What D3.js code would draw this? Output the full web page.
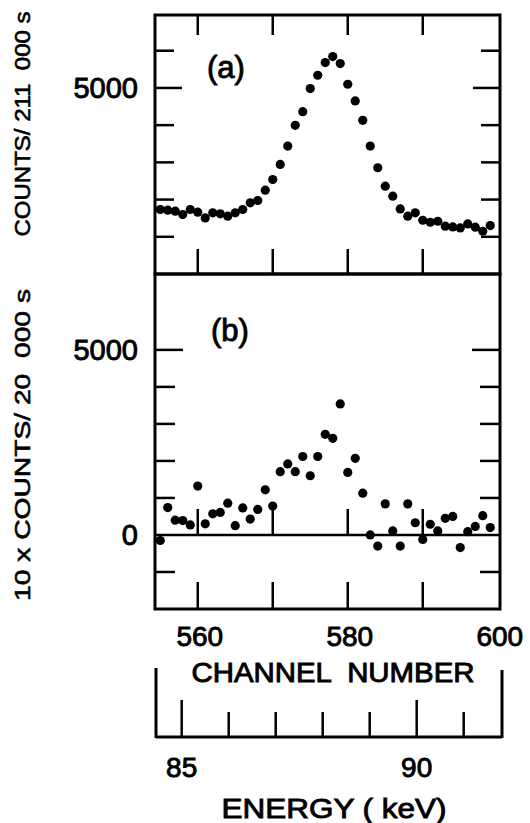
<!DOCTYPE html>
<html>
<head>
<meta charset="utf-8">
<script src="https://cdn.jsdelivr.net/npm/d3@7/dist/d3.min.js"></script>
<style>
  body { margin: 0; background: #fff; }
  text { font-family: "Liberation Sans", Arial, sans-serif; fill: #000; stroke: #000; stroke-width: 0.9px; white-space: pre; }
</style>
</head>
<body>
<svg id="chart" width="530" height="823"></svg>
<script>
// channel numbers, one point per channel
const channels = [555, 556, 557, 558, 559, 560, 561, 562, 563, 564, 565, 566, 567, 568, 569,
  570, 571, 572, 573, 574, 575, 576, 577, 578, 579, 580, 581, 582, 583, 584,
  585, 586, 587, 588, 589, 590, 591, 592, 593, 594, 595, 596, 597, 598, 599];

// (a) counts / 211 000 s
const countsA = [1733, 1715, 1688, 1598, 1733, 1661, 1508, 1643, 1616, 1553, 1643, 1733, 1912, 1975, 2253,
  2540, 2944, 3438, 3995, 4363, 4982, 5341, 5682, 5844, 5655, 5099, 4650, 4129, 3438, 2855,
  2361, 2092, 1750, 1553, 1643, 1445, 1391, 1418, 1284, 1266, 1239, 1346, 1257, 1149, 1302];

// (b) 10 x counts / 20 000 s
const countsB = [-150, 740, 400, 390, 270, 1320, 300, 570, 610, 860, 250, 730, 430, 690, 1220,
  780, 1710, 1920, 1710, 2120, 1600, 2120, 2720, 2610, 3540, 1690, 2070, 1130, 0, -300,
  840, 110, -300, 840, 330, -120, 290, 110, 450, 500, -340, 90, 230, 520, 200];

const channelTicks = [560, 570, 580, 590];
const channelLabels = [560, 580, 600];
const ticksA = [1000, 2000, 3000, 4000, 5000, 6000];
const ticksB = [-1000, 1000, 2000, 3000, 4000, 5000];
const labelsA = [5000];
const labelsB = [0, 5000];
const energyTicks = [85, 86, 87, 88, 89, 90, 91];
const energyLabels = [85, 90];

const left = 155, right = 500;
const x = d3.scaleLinear().domain([554.3, 600.3]).range([left, right]);
const yA = d3.scaleLinear().domain([0, 6960]).range([274, 15]);
const yB = d3.scaleLinear().domain([-2000, 7050]).range([609, 274]);
const energy = d3.scaleLinear().domain([85, 90]).range([181.7, 416.7]);

const svg = d3.select('#chart');
const stroke = '#000';

function line(g, x1, y1, x2, y2, w) {
  g.append('line')
    .attr('x1', x1).attr('y1', y1).attr('x2', x2).attr('y2', y2)
    .attr('stroke', stroke).attr('stroke-width', w || 2.5);
}

// frames
svg.append('rect').attr('x', left).attr('y', yA(6960)).attr('width', right - left)
  .attr('height', yA(0) - yA(6960)).attr('fill', 'none').attr('stroke', stroke).attr('stroke-width', 3);
svg.append('rect').attr('x', left).attr('y', yB(7050)).attr('width', right - left)
  .attr('height', yB(-2000) - yB(7050)).attr('fill', 'none').attr('stroke', stroke).attr('stroke-width', 3);

// zero line in (b)
line(svg, left, yB(0), right, yB(0), 2.5);

// channel ticks
channelTicks.forEach(c => {
  line(svg, x(c), yA(6960), x(c), yA(6960) + 20);
  line(svg, x(c), yA(0), x(c), yA(0) - 25);
  line(svg, x(c), yB(0), x(c), yB(0) - 26);
  line(svg, x(c), yB(-2000), x(c), yB(-2000) - 27);
});

// count ticks, 5000 is longer
ticksA.forEach(v => {
  const len = v === 5000 ? 27 : 19;
  line(svg, left, yA(v), left + len, yA(v));
  line(svg, right, yA(v), right - len, yA(v));
});
ticksB.forEach(v => {
  const len = v === 5000 ? 28 : 20;
  line(svg, left, yB(v), left + len, yB(v));
  line(svg, right, yB(v), right - len, yB(v));
});

// points
svg.append('g').selectAll('circle')
  .data(channels.map((c, i) => [c, countsA[i]]))
  .join('circle')
  .attr('cx', d => x(d[0])).attr('cy', d => yA(d[1])).attr('r', 4.6).attr('fill', stroke);

svg.append('g').selectAll('circle')
  .data(channels.map((c, i) => [c, countsB[i]]))
  .join('circle')
  .attr('cx', d => x(d[0])).attr('cy', d => yB(d[1])).attr('r', 4.6).attr('fill', stroke);

// tick labels
svg.selectAll('.la').data(labelsA).join('text')
  .attr('x', 138).attr('y', d => yA(d)).attr('dy', '0.36em')
  .attr('text-anchor', 'end').style('font-size', '29px').text(d => d);
svg.selectAll('.lb').data(labelsB).join('text')
  .attr('x', 138).attr('y', d => yB(d)).attr('dy', '0.36em')
  .attr('text-anchor', 'end').style('font-size', '29px').text(d => d);

svg.selectAll('.lc').data(channelLabels).join('text')
  .attr('x', d => x(d) + 2).attr('y', 646)
  .attr('text-anchor', 'middle').style('font-size', '28px').text(d => d);

// panel tags
svg.append('text').attr('x', 226).attr('y', 78).attr('text-anchor', 'middle')
  .style('font-size', '31px').text('(a)');
svg.append('text').attr('x', 230).attr('y', 341).attr('text-anchor', 'middle')
  .style('font-size', '31px').text('(b)');

svg.append('text').attr('x', 333).attr('y', 682).attr('text-anchor', 'middle')
  .attr('textLength', 283).attr('lengthAdjust', 'spacingAndGlyphs')
  .style('font-size', '27px').text('CHANNEL  NUMBER');

// energy scale bracket
const eLeft = 156, eRight = 502, eBase = 737;
line(svg, eLeft, 668, eLeft, eBase + 1, 3);
line(svg, eRight, 670, eRight, eBase + 1, 3);
line(svg, eLeft, eBase, eRight, eBase, 3);
energyTicks.forEach(e => {
  const top = energyLabels.includes(e) ? 700 : 712;
  line(svg, energy(e), top, energy(e), eBase);
});
svg.selectAll('.le').data(energyLabels).join('text')
  .attr('x', d => energy(d)).attr('y', 777)
  .attr('text-anchor', 'middle').style('font-size', '28px').text(d => d);

svg.append('text').attr('x', 334).attr('y', 818).attr('text-anchor', 'middle')
  .attr('textLength', 225).attr('lengthAdjust', 'spacingAndGlyphs')
  .style('font-size', '28px').text('ENERGY ( keV)');

// rotated y labels
svg.append('text').attr('transform', 'translate(30,124) rotate(-90)')
  .attr('text-anchor', 'middle').attr('textLength', 225).attr('lengthAdjust', 'spacingAndGlyphs')
  .style('font-size', '22px').style('stroke-width', '0.6px').text('COUNTS/ 211  000 s');
svg.append('text').attr('transform', 'translate(30,445) rotate(-90)')
  .attr('text-anchor', 'middle').attr('textLength', 312).attr('lengthAdjust', 'spacingAndGlyphs')
  .style('font-size', '22px').style('stroke-width', '0.6px').text('10 x COUNTS/ 20  000 s');
</script>
</body>
</html>
